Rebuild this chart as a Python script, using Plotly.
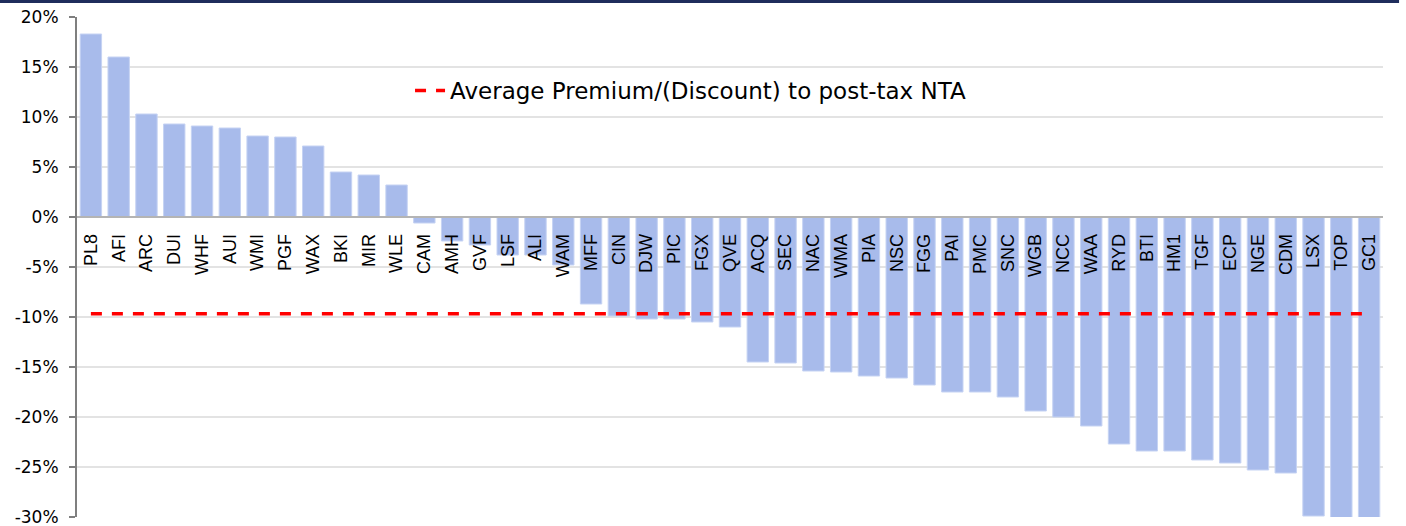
import plotly.graph_objects as go

tickers = ["PL8", "AFI", "ARC", "DUI", "WHF", "AUI", "WMI", "PGF", "WAX", "BKI", "MIR", "WLE",
           "CAM", "AMH", "GVF", "LSF", "ALI", "WAM", "MFF", "CIN", "DJW", "PIC", "FGX", "QVE",
           "ACQ", "SEC", "NAC", "WMA", "PIA", "NSC", "FGG", "PAI", "PMC", "SNC", "WGB", "NCC",
           "WAA", "RYD", "BTI", "HM1", "TGF", "ECP", "NGE", "CDM", "LSX", "TOP", "GC1"]
premium = [18.3, 16.0, 10.3, 9.3, 9.1, 8.9, 8.1, 8.0, 7.1, 4.5, 4.2, 3.2,
           -0.6, -2.4, -2.8, -3.8, -3.8, -4.8, -8.7, -9.9, -10.2, -10.2, -10.5, -11.0,
           -14.5, -14.6, -15.4, -15.5, -15.9, -16.1, -16.8, -17.5, -17.5, -18.0, -19.4, -20.0,
           -20.9, -22.7, -23.4, -23.4, -24.3, -24.6, -25.3, -25.6, -29.9, -30.2, -30.3]
average = -9.67
y_ticks = [20, 15, 10, 5, 0, -5, -10, -15, -20, -25, -30]
y_tick_text = [f"{v}%" for v in y_ticks]
legend_name = "Average Premium/(Discount) to post-tax NTA"

fig = go.Figure()
fig.add_trace(go.Bar(
    x=tickers, y=premium,
    marker=dict(color="#a8bbeb", line=dict(color="#c6d3f3", width=1)),
    showlegend=False,
))
fig.add_trace(go.Scatter(
    x=tickers, y=[average] * len(tickers), mode="lines", name=legend_name,
    line=dict(color="#ff0000", width=3.5, dash="11px,10px"),
))

fig.add_shape(type="rect", xref="paper", yref="paper",
              x0=-0.06, x1=1.0123, y0=1.028, y1=1.036,
              fillcolor="#1f2d5c", line=dict(width=0), layer="above")

fig.update_layout(
    width=1406, height=526,
    margin=dict(l=77, r=23, t=17, b=9, autoexpand=False),
    plot_bgcolor="white", paper_bgcolor="white",
    bargap=0.23,
    font=dict(family="DejaVu Sans", color="#000000"),
    legend=dict(x=0.255, y=0.853, xanchor="left", yanchor="middle",
                bgcolor="rgba(0,0,0,0)", font=dict(family="DejaVu Sans", size=23)),
    xaxis=dict(
        anchor="free", position=0.6, range=[-0.5, len(tickers) - 0.5],
        tickangle=-90, tickfont=dict(family="Liberation Sans", size=18, color="#000000"),
        showline=True, linecolor="#b4b4b4", linewidth=1.5, automargin=False,
        showgrid=False, ticks="", ticklabelstandoff=9,
    ),
    yaxis=dict(
        range=[-30, 20], tickvals=y_ticks, ticktext=y_tick_text,
        tickfont=dict(family="DejaVu Sans", size=17, color="#000000"),
        showline=True, linecolor="#7f7f7f", linewidth=2, automargin=False,
        ticks="outside", ticklen=6, tickcolor="#7f7f7f", tickwidth=1.5,
        ticklabelstandoff=7, ticklabeloverflow="allow",
        showgrid=True, gridcolor="#e3e3e3", gridwidth=1.5, zeroline=False,
    ),
)

fig.write_html("out.html", config={"displayModeBar": False},
               post_script="document.body.style.margin='0px';")
